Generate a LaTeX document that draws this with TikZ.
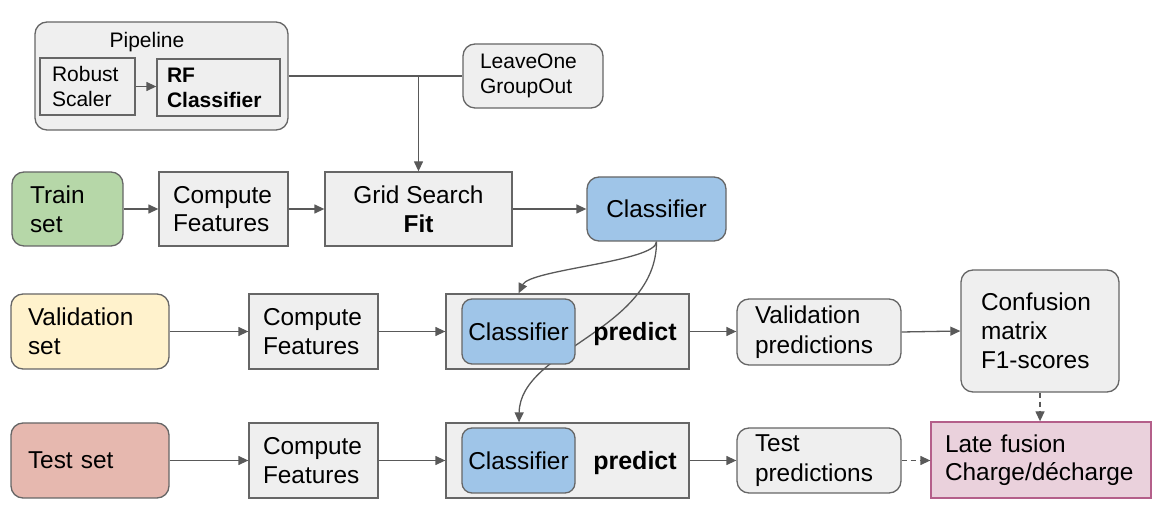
\documentclass[tikz,border=0pt]{standalone}
\usepackage{fontspec}
\setmainfont{Liberation Sans}
\usetikzlibrary{arrows.meta}
\hyphenpenalty=10000
\exhyphenpenalty=10000
\definecolor{gf}{HTML}{EFEFEF}
\definecolor{bd}{HTML}{666666}
\definecolor{ac}{HTML}{595959}
\definecolor{cgreen}{HTML}{B6D7A8}
\definecolor{cyellow}{HTML}{FFF2CC}
\definecolor{cred}{HTML}{E6B8AF}
\definecolor{cblue}{HTML}{9FC5E8}
\definecolor{cpink}{HTML}{EAD1DC}
\definecolor{cpinkbd}{HTML}{B45F8A}
\pgfdeclarelayer{bgl}
\pgfdeclarelayer{mid}
\pgfsetlayers{bgl,mid,main}
\newcommand{\bigf}{\fontsize{12.2}{14.3}\selectfont}
\newcommand{\predf}{\fontsize{12.2}{15}\selectfont}
\newcommand{\smallf}{\fontsize{10.5}{12.5}\selectfont}
\begin{document}
\begin{tikzpicture}[x=1pt,y=-1pt,
  box/.style={draw=bd, line width=0.65pt, fill=gf, inner ysep=0pt, font=\bigf},
  rbox/.style={box, rounded corners=6pt},
  arr/.style={draw=ac, line width=0.65pt, -{Triangle[length=5pt,width=4.5pt]}},
  darr/.style={arr, dash pattern=on 2.5pt off 2pt},
  ln/.style={draw=ac, line width=0.65pt}]
\useasboundingbox (0,0) rectangle (586.5,264);

% Pipeline
\node[rbox, minimum width=126.5pt, minimum height=54pt] (pipe) at (80.75,38) {};
\node[font=\smallf, inner sep=0pt] (pipelbl) at (73.5,21) {Pipeline};
\node[box, font=\smallf, text width=35.5pt, inner xsep=6pt, minimum height=28.5pt, align=left] (rs) at (43.75,43.25) {Robust\\Scaler};
\node[box, font=\smallf\bfseries, text width=51.5pt, inner xsep=5pt, minimum height=28.5pt, align=left] (rf) at (109.25,43.75) {RF\\Classifier};
\node[rbox, font=\smallf, text width=53pt, inner xsep=8.5pt, minimum height=32pt, align=left] (logo) at (266.5,38) {LeaveOne\\GroupOut};

% Train row
\node[rbox, fill=cgreen, text width=37.5pt, inner xsep=9pt, minimum height=37pt, align=left] (train) at (33.75,104.5) {Train\\set};
\node[box, text width=50.5pt, inner xsep=7pt, minimum height=37pt, align=left] (cftr) at (111.75,104.5) {Compute\\Features};
\node[box, minimum width=93.5pt, minimum height=37pt, align=center] (gs) at (209.25,104.5) {Grid Search\\\textbf{Fit}};
\node[rbox, fill=cblue, minimum width=69.5pt, minimum height=32pt] (clf) at (328.25,104.5) {Classifier};

% Validation row
\node[rbox, fill=cyellow, text width=62pt, inner xsep=8.5pt, minimum height=37.5pt, align=left] (vset) at (45,165.75) {Validation\\set};
\node[box, text width=50.5pt, inner xsep=7pt, minimum height=37.5pt, align=left] (cfv) at (156.75,165.75) {Compute\\Features};
\begin{pgfonlayer}{bgl}
\node[box, minimum width=121.5pt, minimum height=37.5pt] (pv) at (283.75,165.75) {};
\node[box, minimum width=121.5pt, minimum height=37.5pt] (pt) at (283.75,230.25) {};
\end{pgfonlayer}
\node[rbox, fill=cblue, rounded corners=5pt, inner xsep=1pt, minimum width=56.5pt, minimum height=32.5pt] (icv) at (259.25,165.75) {Classifier};
\node[font=\fontsize{12.5}{14}\selectfont\bfseries, inner sep=0pt] (predv) at (317.5,167) {predict};
\node[rbox, font=\predf, text width=64pt, inner xsep=9pt, minimum height=33pt, align=left] (vp) at (409.5,166) {Validation\\predictions};
\node[rbox, text width=59pt, inner xsep=10pt, minimum height=61pt, align=left, font=\fontsize{12.2}{14.5}\selectfont] (cm) at (520,165.5) {Confusion\\matrix\\F1-scores};

% Test row
\node[rbox, fill=cred, text width=62pt, inner xsep=8.5pt, minimum height=37.5pt, align=left] (tset) at (45,230.25) {Test set};
\node[box, text width=50.5pt, inner xsep=7pt, minimum height=37.5pt, align=left] (cft) at (156.75,230.25) {Compute\\Features};
\node[rbox, fill=cblue, rounded corners=5pt, inner xsep=1pt, minimum width=56.5pt, minimum height=32.5pt] (ict) at (259.25,230.25) {Classifier};
\node[font=\fontsize{12.5}{14}\selectfont\bfseries, inner sep=0pt] (predt) at (317.5,231.5) {predict};
\node[rbox, font=\predf, text width=64pt, inner xsep=9pt, minimum height=32.5pt, align=left] (tp) at (409.5,230.25) {Test\\predictions};
\node[box, draw=cpinkbd, fill=cpink, text width=96pt, inner xsep=7pt, minimum height=38pt, align=left] (lf) at (520.5,230) {Late fusion\\Charge/décharge};

% Connectors
\draw[arr] (rs.east) -- (rs.east -| rf.west);
\draw[ln] (pipe.east) -- (logo.west);
\coordinate (j) at (gs.north |- pipe.east);
\draw[arr] (j) -- (gs.north);
\draw[arr] (train) -- (cftr);
\draw[arr] (cftr) -- (gs);
\draw[arr] (gs) -- (gs -| clf.west);
\draw[arr] (vset) -- (cfv);
\draw[arr] (cfv) -- (pv);
\draw[arr] (pv) -- (pv -| vp.west);
\draw[arr] (vp.east) -- (cm.west);
\draw[arr] (tset) -- (cft);
\draw[arr] (cft) -- (pt);
\draw[arr] (pt) -- (pt -| tp.west);
\draw[darr] (tp.east) -- (tp.east -| lf.west);
\draw[darr] (cm.south) -- (cm.south |- lf.north);
\begin{pgfonlayer}{mid}
\draw[arr] (clf.south) .. controls ([yshift=-10pt]clf.south) and ([xshift=-18.75pt,yshift=12pt]pv.north) .. ([xshift=-24.5pt]pv.north);
\draw[arr] (clf.south) .. controls ([yshift=-44.5pt]clf.south) and ([xshift=-23.75pt,yshift=36.5pt]pt.north) .. ([xshift=-24.25pt]pt.north);
\end{pgfonlayer}
\end{tikzpicture}
\end{document}
